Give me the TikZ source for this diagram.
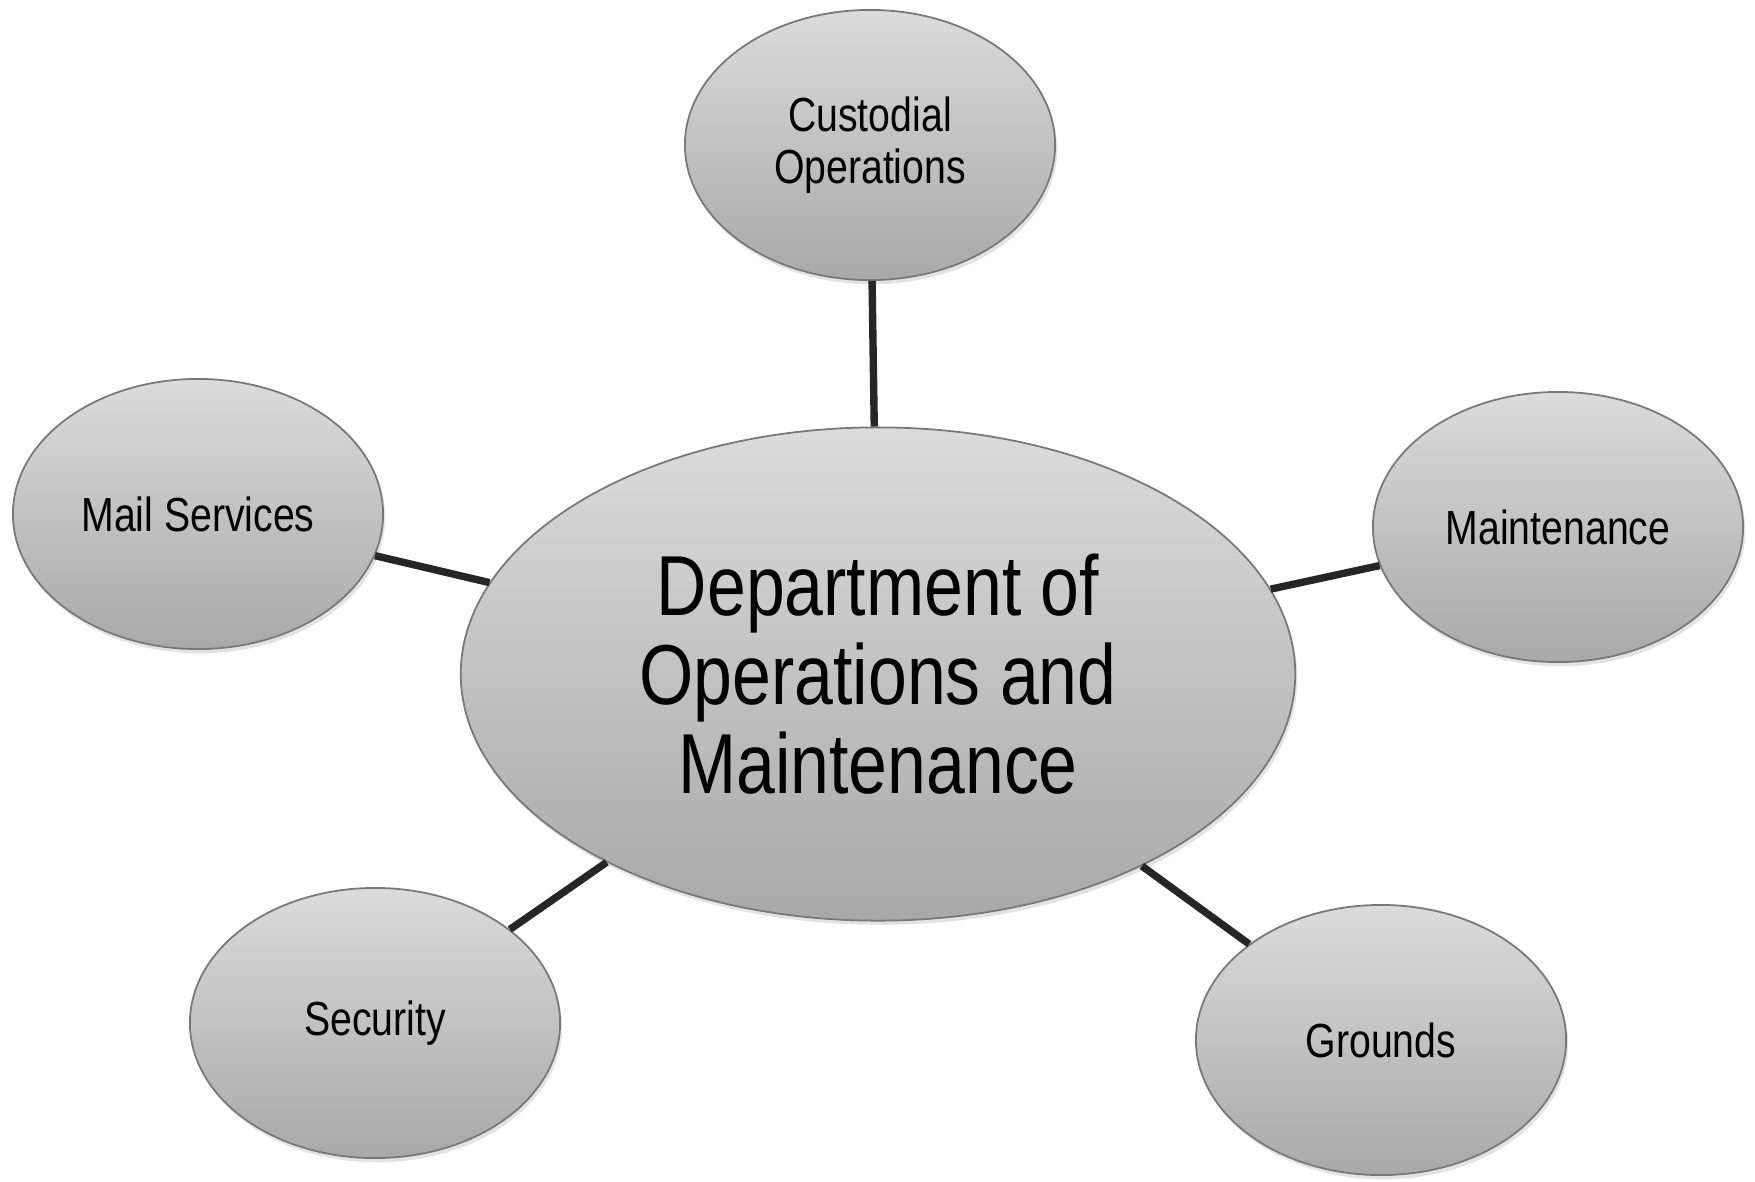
\documentclass[tikz,border=0pt]{standalone}
\usepackage{fontspec}
\setmainfont{Liberation Sans}[FakeStretch=0.82]
\usetikzlibrary{shapes.geometric,shadows}
\definecolor{lien}{RGB}{38,38,38}
\definecolor{bord}{RGB}{120,120,120}

\begin{document}
\begin{tikzpicture}[x=0.01cm,y=-0.01cm,
  bulle/.style={ellipse,draw=bord,line width=0.5pt,top color=gray!28,bottom color=gray!68,
    drop shadow={opacity=0.22,shadow xshift=0.6pt,shadow yshift=-1.2pt},
    minimum width=3.70cm,minimum height=2.70cm,inner sep=0pt,align=center,
    font=\fontsize{13.6pt}{14.6pt}\selectfont},
  centre/.style={bulle,minimum width=8.34cm,minimum height=4.93cm,
    font=\fontsize{24.2pt}{25.2pt}\selectfont},
  lien/.style={draw=lien,line width=2.1pt}]
\useasboundingbox (0,0) rectangle (1755,1181);
\node [centre] (dom) at (878,674) {Department of\\Operations and\\Maintenance};
\node [bulle] (custo) at (870,145) {Custodial\\Operations};
\node [bulle] (mail) at (198,514) {Mail Services};
\node [bulle] (maint) at (1558,527) {Maintenance};
\node [bulle] (secu) at (375,1023) {Security};
\node [bulle] (grounds) at (1381,1040) {Grounds};
\foreach \n in {custo,mail,maint,secu,grounds} {\draw [lien] (dom)--(\n);}
\end{tikzpicture}
\end{document}
